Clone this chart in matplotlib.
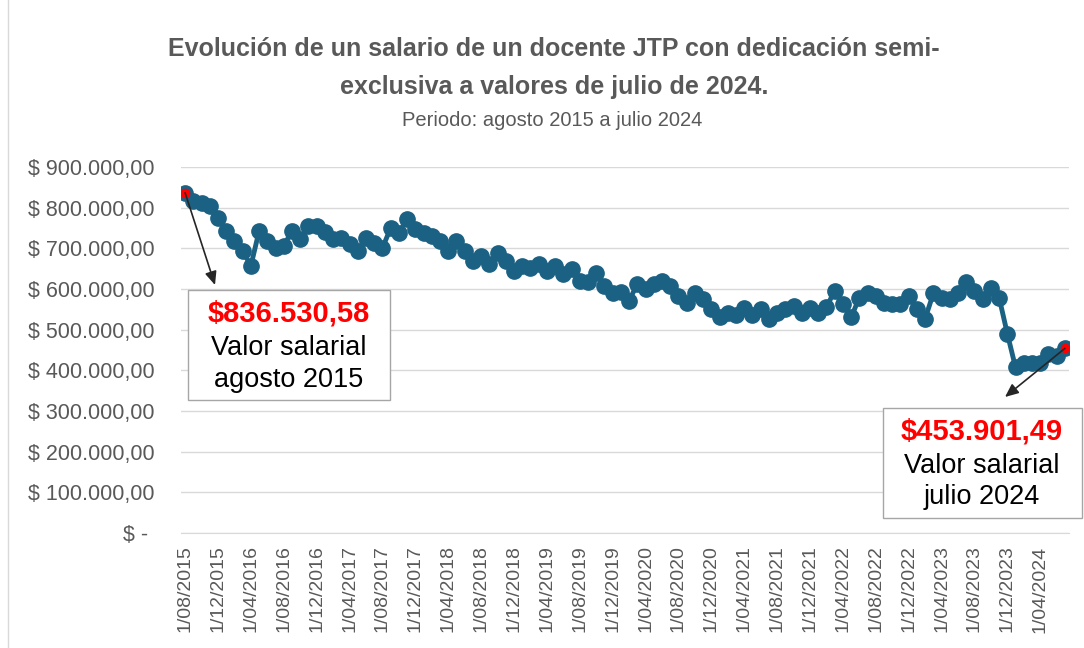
import matplotlib
matplotlib.use('Agg')
import matplotlib.pyplot as plt
from matplotlib.patches import Rectangle
from matplotlib.lines import Line2D

# Monthly salary values (Aug 2015 .. Jul 2024), pesos at July 2024 values
salary = [
    836530.58, 816000, 812000, 804000, 775000, 743000, 718000, 694000, 657000, 743000,
    718000, 701000, 706000, 743000, 723000, 755000, 755000, 740000, 723000, 726000,
    711000, 694000, 726000, 714000, 701000, 750000, 738000, 772000, 748000, 738000,
    731000, 718000, 694000, 718000, 694000, 670000, 682000, 662000, 689000, 670000,
    645000, 657000, 652000, 662000, 645000, 657000, 638000, 650000, 620000, 616000,
    640000, 608000, 589000, 593000, 571000, 613000, 601000, 613000, 620000, 608000,
    584000, 566000, 591000, 576000, 552000, 530000, 542000, 535000, 554000, 535000,
    552000, 527000, 542000, 552000, 559000, 540000, 554000, 540000, 555000, 596000,
    564000, 530000, 579000, 591000, 584000, 566000, 564000, 564000, 584000, 552000,
    527000, 589000, 579000, 576000, 591000, 616000, 596000, 576000, 603000, 579000,
    490000, 407000, 417000, 417000, 417000, 441000, 436000, 453901.49,
]

tick_labels = [
    "1/08/2015", "1/12/2015", "1/04/2016", "1/08/2016", "1/12/2016", "1/04/2017",
    "1/08/2017", "1/12/2017", "1/04/2018", "1/08/2018", "1/12/2018", "1/04/2019",
    "1/08/2019", "1/12/2019", "1/04/2020", "1/08/2020", "1/12/2020", "1/04/2021",
    "1/08/2021", "1/12/2021", "1/04/2022", "1/08/2022", "1/12/2022", "1/04/2023",
    "1/08/2023", "1/12/2023", "1/04/2024",
]
tick_step = 4

y_ticks = [0, 100000, 200000, 300000, 400000, 500000, 600000, 700000, 800000, 900000]
y_tick_labels = ["$ - ", "$ 100.000,00", "$ 200.000,00", "$ 300.000,00", "$ 400.000,00",
                 "$ 500.000,00", "$ 600.000,00", "$ 700.000,00", "$ 800.000,00", "$ 900.000,00"]

first_label = ["$836.530,58", "Valor salarial", "agosto 2015"]
last_label = ["$453.901,49", "Valor salarial", "julio 2024"]

W, H = 1084, 648
plt.rcParams['font.family'] = ['Liberation Sans', 'DejaVu Sans']
fig = plt.figure(figsize=(W / 100, H / 100), dpi=100)

def fx(x):
    return x / W

def fy(y):
    return 1 - y / H

ax = fig.add_axes([fx(181), fy(533), (1069 - 181) / W, (533 - 167) / H])

x = list(range(len(salary)))
line_color = '#1b6183'
ax.plot(x, salary, color=line_color, lw=3.5, marker='o', ms=11,
        markerfacecolor=line_color, markeredgecolor=line_color, zorder=3)
ax.plot([x[0], x[-1]], [salary[0], salary[-1]], ls='none', marker='o', ms=8,
        markerfacecolor='#ff0000', markeredgecolor=line_color, markeredgewidth=1, zorder=4)

ax.set_xlim(-0.5, len(salary) - 0.5)
ax.set_ylim(0, 900000)
ax.set_yticks(y_ticks)
ax.set_yticklabels(y_tick_labels)
ax.set_xticks(x[::tick_step])
ax.set_xticklabels(tick_labels, rotation=90, va='top', ha='center')
ax.tick_params(axis='y', length=0, pad=19, labelsize=15.5, labelcolor='#595959')
ax.tick_params(axis='x', length=0, pad=9, labelsize=14, labelcolor='#595959')
ax.grid(axis='y', color='#d9d9d9', lw=1)
ax.set_axisbelow(True)
for s in ['top', 'right', 'left']:
    ax.spines[s].set_visible(False)
ax.spines['bottom'].set_color('#d9d9d9')

# Titles
fig.text(fx(554), fy(49), "Evolución de un salario de un docente JTP con dedicación semi-",
         ha='center', va='center', fontsize=18, weight='bold', color='#595959')
fig.text(fx(554), fy(87), "exclusiva a valores de julio de 2024.",
         ha='center', va='center', fontsize=18, weight='bold', color='#595959')
fig.text(fx(552), fy(121), "Periodo: agosto 2015 a julio 2024",
         ha='center', va='center', fontsize=14.5, color='#595959')

# chart border
fig.add_artist(Line2D([fx(8), fx(8)], [0, 1], color='#d9d9d9', lw=1))

# Annotation boxes
def box(x0, y0, x1, y1, cx, lines, ys):
    fig.add_artist(Rectangle((fx(x0), fy(y1)), (x1 - x0) / W, (y1 - y0) / H,
                             facecolor='white', edgecolor='#a6a6a6', lw=1, zorder=5))
    fig.text(fx(cx), fy(ys[0]), lines[0], ha='center', va='center', fontsize=21,
             weight='bold', color='#ff0000', zorder=6)
    fig.text(fx(cx), fy(ys[1]), lines[1], ha='center', va='center', fontsize=19.5,
             color='black', zorder=6)
    fig.text(fx(cx), fy(ys[2]), lines[2], ha='center', va='center', fontsize=19.5,
             color='black', zorder=6)

box(188, 290, 390, 400, 289, first_label, (313, 348, 380))
box(883, 408, 1082, 518, 982, last_label, (432, 466, 497))

ax.annotate('', xy=(fx(215), fy(285)), xycoords='figure fraction',
            xytext=(x[0], salary[0]), textcoords='data',
            arrowprops=dict(arrowstyle='-|>,head_length=0.8,head_width=0.35', color='#262626', lw=1.2,
                            shrinkA=0, shrinkB=0), zorder=7)
ax.annotate('', xy=(fx(1005), fy(397)), xycoords='figure fraction',
            xytext=(x[-1], salary[-1]), textcoords='data',
            arrowprops=dict(arrowstyle='-|>,head_length=0.8,head_width=0.35', color='#262626', lw=1.2,
                            shrinkA=0, shrinkB=0), zorder=7)

fig.savefig('out.png', dpi=100, facecolor='white')
